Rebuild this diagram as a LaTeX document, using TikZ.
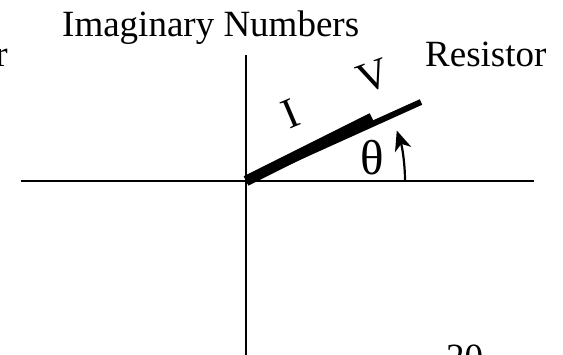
\documentclass[tikz,border=0pt]{standalone}
\usepackage{fontspec}
\setmainfont{Liberation Serif}
\usepackage{tikz}
\usetikzlibrary{positioning,calc,arrows.meta}

\begin{document}
\begin{tikzpicture}[x=1pt,y=1pt,
    lbl/.style={inner sep=0pt,font=\fontsize{37}{44}\selectfont},
    biglbl/.style={inner sep=0pt,font=\fontsize{43}{50}\selectfont},
    axis/.style={line width=2.2pt},
    phasor/.style={line cap=butt}]
  \useasboundingbox (0,0) rectangle (563,355);
  \clip (0,0) rectangle (563,355);
  % axes
  \coordinate (O) at (246,174);
  \coordinate (xl) at (21,174);
  \coordinate (xr) at (534,174);
  \coordinate (yt) at (246,300);
  \coordinate (yb) at (246,-5);
  \draw[axis] (xl) -- (xr);
  \draw[axis] (yb) -- (yt);
  % phasors
  \coordinate (vend) at (421,253);
  \coordinate (iend) at (372,237);
  \draw[phasor,line width=6pt] (O) -- (vend);
  \draw[phasor,line width=10.5pt] (O) -- (iend);
  \node[biglbl,rotate=23] (ilbl) at (291,241) {I};
  \node[biglbl,rotate=20] (vlbl) at (373,279) {V};
  % angle
  \draw[line width=2.2pt,-{Stealth[length=20pt,width=17pt,inset=6pt]}]
    (405,174) arc[start angle=0,end angle=18.5,radius=159] coordinate (tip);
  \node[inner sep=0pt,font=\fontsize{49}{56}\selectfont] (theta) at (372,197) {θ};
  % texts
  \node[lbl,anchor=base west] (title) at (62,318) {Imaginary Numbers};
  \node[lbl,anchor=base west] (resistor) at (425,288) {Resistor};
  \node[lbl,anchor=base east] (leftlbl) at (8,288) {r};
  \node[lbl,anchor=base west] (pagenum) at (446,-15) {20};
\end{tikzpicture}
\end{document}
